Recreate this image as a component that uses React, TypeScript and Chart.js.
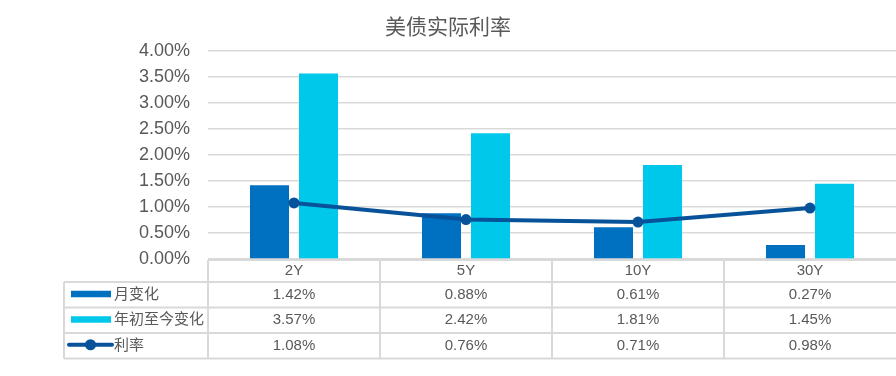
import React, { useEffect, useRef } from "react";
import { Chart, registerables } from "chart.js";

Chart.register(...registerables);

const title = "美债实际利率";
const categories = ["2Y", "5Y", "10Y", "30Y"];
const seriesNames = ["月变化", "年初至今变化", "利率"];
const monthlyChange = [1.42, 0.88, 0.61, 0.27];
const ytdChange = [3.57, 2.42, 1.81, 1.45];
const rate = [1.08, 0.76, 0.71, 0.98];
const yMin = 0;
const yMax = 4;
const yStep = 0.5;

const colors = ["#0070C0", "#00C8EA", "#08529A"];
const textColor = "#595959";
const gridColor = "#D9D9D9";
const fontFamily = '"Liberation Sans", Arial, "Noto Sans CJK SC", sans-serif';

const fmt = (v: number) => v.toFixed(2) + "%";

const tablePlugin = {
  id: "dataTable",
  afterDraw(chart: any) {
    const ctx = chart.ctx as CanvasRenderingContext2D;
    const area = chart.chartArea;
    const x = chart.scales.x;
    const n = categories.length;
    const top = area.bottom + 1;
    const headerH = 22;
    const rowH = 25.5;
    const leftX = 64;
    const plotLeft = area.left;
    const right = area.right;
    const rowsTop = top + headerH;
    const bottom = rowsTop + rowH * 3;

    const bounds: number[] = [];
    for (let i = 0; i <= n; i++) {
      if (i === 0) bounds.push(plotLeft);
      else if (i === n) bounds.push(right);
      else bounds.push((x.getPixelForValue(i - 1) + x.getPixelForValue(i)) / 2);
    }

    ctx.save();
    ctx.strokeStyle = gridColor;
    ctx.lineWidth = 2;
    ctx.beginPath();
    ctx.moveTo(plotLeft, top);
    ctx.lineTo(right, top);
    for (let r = 0; r <= 3; r++) {
      const y = rowsTop + r * rowH;
      ctx.moveTo(leftX, y);
      ctx.lineTo(right, y);
    }
    ctx.moveTo(leftX, rowsTop);
    ctx.lineTo(leftX, bottom);
    for (let i = 0; i < n; i++) {
      ctx.moveTo(bounds[i], top);
      ctx.lineTo(bounds[i], bottom);
    }
    ctx.stroke();

    ctx.fillStyle = textColor;
    ctx.font = `15px ${fontFamily}`;
    ctx.textAlign = "center";
    ctx.textBaseline = "middle";
    for (let i = 0; i < n; i++) {
      const cx = x.getPixelForValue(i);
      ctx.fillText(categories[i], cx, top + headerH / 2);
    }
    const rows = [monthlyChange, ytdChange, rate];
    rows.forEach((vals, r) => {
      const cy = rowsTop + r * rowH + rowH / 2;
      vals.forEach((v, i) => {
        ctx.fillText(fmt(v), x.getPixelForValue(i), cy);
      });
    });

    // legend keys
    rows.forEach((_, r) => {
      const cy = rowsTop + r * rowH + rowH / 2;
      if (r < 2) {
        ctx.fillStyle = colors[r];
        ctx.fillRect(71, cy - 4, 40, 6.5);
      } else {
        ctx.strokeStyle = colors[2];
        ctx.lineWidth = 4;
        ctx.lineCap = "round";
        ctx.beginPath();
        ctx.moveTo(69, cy - 1);
        ctx.lineTo(112, cy - 1);
        ctx.stroke();
        ctx.fillStyle = colors[2];
        ctx.beginPath();
        ctx.arc(90.5, cy - 1, 5.5, 0, Math.PI * 2);
        ctx.fill();
      }
      ctx.fillStyle = textColor;
      ctx.textAlign = "left";
      ctx.fillText(seriesNames[r], 114, cy);
    });
    ctx.restore();
  },
};

export default function App() {
  const ref = useRef<HTMLCanvasElement>(null);
  useEffect(() => {
    document.body.style.margin = "0";
    const canvas = ref.current;
    if (!canvas) return;
    const chart = new Chart(canvas, {
      type: "bar",
      data: {
        labels: categories,
        datasets: [
          {
            type: "bar",
            label: seriesNames[0],
            data: monthlyChange,
            backgroundColor: colors[0],
            categoryPercentage: 0.57,
            barPercentage: 0.796,
            order: 1,
          },
          {
            type: "bar",
            label: seriesNames[1],
            data: ytdChange,
            backgroundColor: colors[1],
            categoryPercentage: 0.57,
            barPercentage: 0.796,
            order: 1,
          },
          {
            type: "line",
            label: seriesNames[2],
            data: rate,
            borderColor: colors[2],
            backgroundColor: colors[2],
            borderWidth: 4,
            pointRadius: 5.5,
            pointBackgroundColor: colors[2],
            pointBorderWidth: 0,
            tension: 0,
            order: 0,
          } as any,
        ],
      },
      options: {
        responsive: false,
        animation: false,
        layout: { autoPadding: false, padding: { top: 0, right: 0, bottom: 117, left: 0 } },
        plugins: {
          legend: { display: false },
          tooltip: { enabled: false },
          title: {
            display: true,
            text: title,
            color: textColor,
            font: { size: 21, family: fontFamily, weight: "normal" },
            padding: { top: 16, bottom: 10 },
          },
        },
        scales: {
          x: {
            display: false,
            offset: true,
          },
          y: {
            min: yMin,
            max: yMax,
            afterFit: (s: any) => {
              s.width = 208;
            },
            ticks: {
              stepSize: yStep,
              padding: 18,
              color: textColor,
              font: { size: 18, family: fontFamily },
              callback: (v: any) => fmt(Number(v)),
            },
            grid: { color: gridColor, lineWidth: 1.5, drawTicks: false },
            border: { display: false },
          },
        },
      },
      plugins: [tablePlugin],
    });
    return () => chart.destroy();
  }, []);
  return (
    <div style={{ width: 896, height: 376 }}>
      <canvas ref={ref} width={896} height={376} style={{ display: "block" }} />
    </div>
  );
}
